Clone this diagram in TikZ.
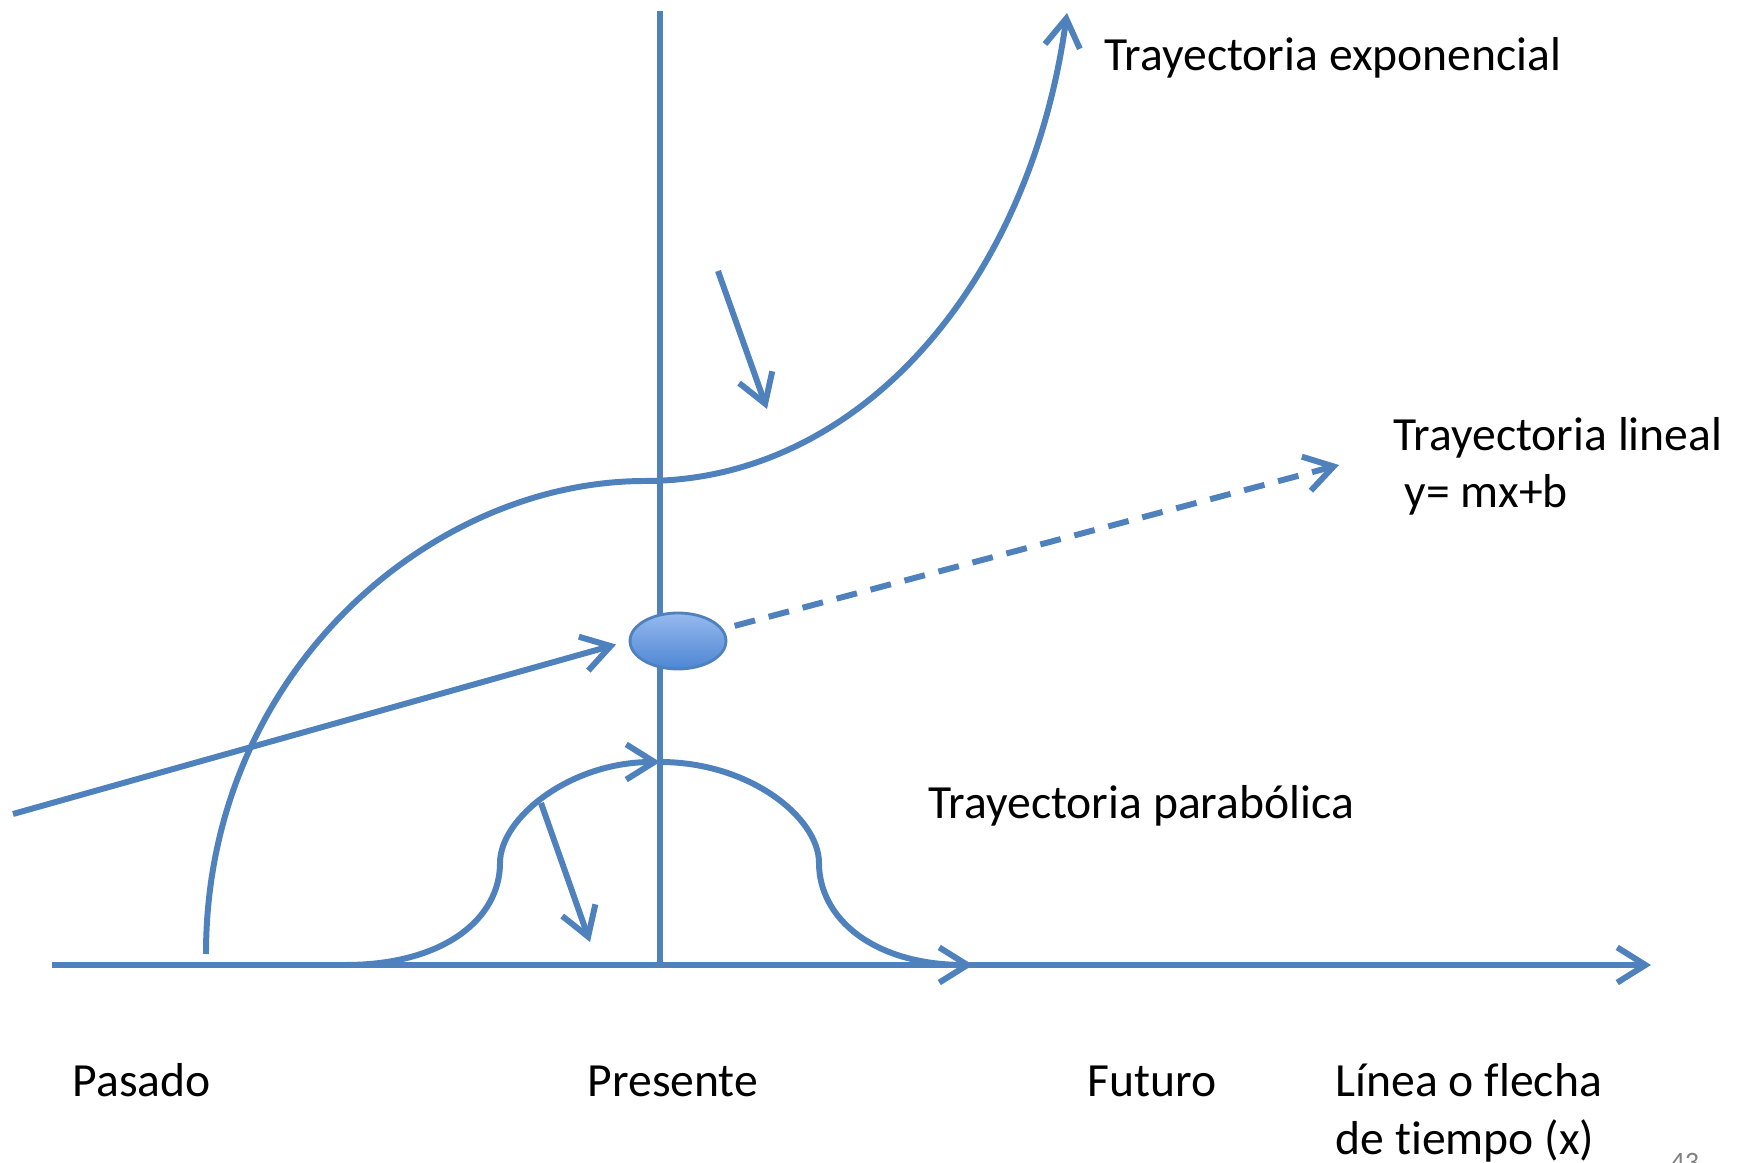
\documentclass[tikz,border=0pt]{standalone}
\usepackage{fontspec}
\setmainfont{Carlito}[Ligatures=NoCommon]
\usetikzlibrary{arrows.meta, shapes.geometric}
\definecolor{azul}{HTML}{4F81BD}
\definecolor{azulclaro}{HTML}{95B9EE}
\definecolor{azulosc}{HTML}{4E86D4}

\begin{document}
\begin{tikzpicture}[
    curva/.style={azul, line width=1.7pt},
    arrow/.style={curva, -{Straight Barb[length=8pt, width=10pt]}},
    etiqueta/.style={anchor=base west, inner sep=0pt, align=left, font=\fontsize{13.55}{16.3}\selectfont}
]
\useasboundingbox (0,0) rectangle (17.43,11.63);

% Ejes
\coordinate (origen) at (0.52,1.98);
\coordinate (tiempo) at (16.51,1.98);
\coordinate (arriba) at (6.60,11.52);
\coordinate (abajo) at (6.60,1.98);
\draw [arrow] (origen) -- (tiempo);
\draw [curva] (arriba) -- (abajo);

% Punto presente
\node (punto) [ellipse, draw=azul, line width=0.8pt, top color=azulclaro, bottom color=azulosc,
    minimum width=0.96cm, minimum height=0.56cm, inner sep=0pt] at (6.78,5.22) {};

% Trayectoria exponencial
\coordinate (expinicio) at (2.06,2.09);
\coordinate (expfin) at (10.67,11.50);
\draw [arrow] (expinicio) .. controls (2.06,4.9) and (4.3,6.82) .. (6.45,6.82)
    .. controls (8.6,6.82) and (10.3,8.8) .. (expfin);

% Trayectoria lineal
\coordinate (linpasado) at (0.13,3.49);
\coordinate (linfuturo) at (13.39,6.98);
\draw [arrow, shorten >=0.13cm] (linpasado) -- (punto.west);
\draw [arrow, dash pattern=on 6pt off 4pt, shorten <=0.12cm] (punto.15) -- (linfuturo);

% Trayectoria parabolica
\coordinate (parinicio) at (3.45,1.98);
\coordinate (parcima) at (6.60,4.01);
\coordinate (parfin) at (9.73,1.98);
\draw [arrow] (parinicio) .. controls (4.45,1.98) and (5.0,2.45) .. (5.0,3.0)
    .. controls (5.0,3.45) and (5.7,4.01) .. (parcima);
\draw [arrow] (parcima) .. controls (7.5,4.01) and (8.19,3.45) .. (8.19,3.0)
    .. controls (8.19,2.45) and (8.73,1.98) .. (parfin);

% Flechas sueltas
\coordinate (flechaA) at (7.18,8.92);
\coordinate (flechaB) at (7.67,7.54);
\coordinate (flechaC) at (5.41,3.60);
\coordinate (flechaD) at (5.90,2.21);
\draw [arrow] (flechaA) -- (flechaB);
\draw [arrow] (flechaC) -- (flechaD);

% Textos (base = ultima linea)
\node [etiqueta] (exponencial) at (11.04,10.92) {Trayectoria exponencial};
\node [etiqueta] (lineal) at (13.93,6.55) {Trayectoria lineal\\\hspace*{0.11cm}y= mx+b};
\node [etiqueta] (parabolica) at (9.28,3.44) {Trayectoria parabólica};
\node [etiqueta] (pasado) at (0.72,0.66) {Pasado};
\node [etiqueta] (presente) at (5.87,0.66) {Presente};
\node [etiqueta] (futuro) at (10.87,0.66) {Futuro};
\node [etiqueta] (flecha) at (13.35,0.09) {Línea o flecha\\de tiempo (x)};
\node [anchor=base west, inner sep=0pt, text=gray, font=\fontsize{8}{10}\selectfont] (pagina) at (16.70,-0.09) {43};

\end{tikzpicture}
\end{document}
